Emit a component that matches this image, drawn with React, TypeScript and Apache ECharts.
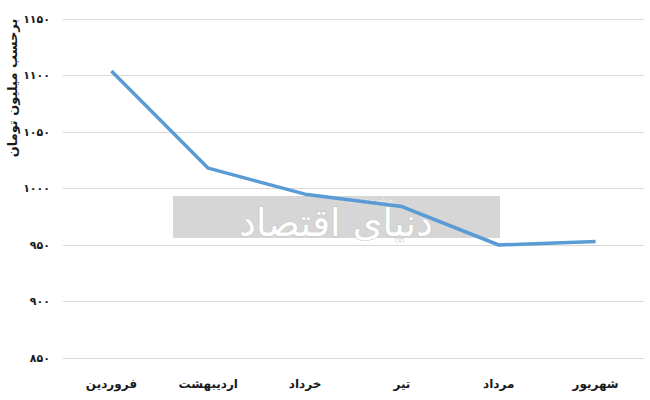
import React, { useEffect, useRef } from "react";
import * as echarts from "echarts";

const categories = ["فروردین", "اردیبهشت", "خرداد", "تیر", "مرداد", "شهریور"];
const values = [1104, 1018, 995, 984, 950, 953];
const yTitle = "برحسب میلیون تومان";
const watermark = "دنیای اقتصاد";
const watermarkSmall = "روزنامه صبح ایران";

const toPersian = (n: number) =>
  String(n).replace(/\d/g, (d) => "۰۱۲۳۴۵۶۷۸۹"[Number(d)]);

export default function App() {
  const ref = useRef<HTMLDivElement>(null);
  useEffect(() => {
    const chart = echarts.init(ref.current!, null, { renderer: "svg" });
    chart.setOption({
      animation: false,
      backgroundColor: "#ffffff",
      grid: { left: 63, right: 6, top: 19, bottom: 42, outerBoundsMode: "none", containLabel: false },
      graphic: [
        {
          type: "rect",
          z: 0,
          shape: { x: 173, y: 196, width: 327, height: 42 },
          style: { fill: "#d6d6d6" },
        },
        {
          type: "text",
          z: 1,
          x: 336,
          y: 204,
          style: {
            text: watermark,
            font: "38px 'DejaVu Sans'",
            fill: "#ffffff",
            stroke: "#c4c4c4",
            lineWidth: 1,
            align: "center",
            verticalAlign: "top",
          },
        },
        {
          type: "text",
          z: 2,
          x: 372,
          y: 199,
          style: {
            text: watermarkSmall,
            font: "6px 'DejaVu Sans'",
            fill: "#f2f2f2",
            align: "center",
            verticalAlign: "middle",
          },
        },
        {
          type: "text",
          z: 3,
          x: 12,
          y: 88,
          rotation: Math.PI / 2,
          style: {
            text: yTitle,
            font: "bold 13px 'DejaVu Sans'",
            fill: "#1a1a1a",
            align: "center",
            verticalAlign: "middle",
          },
        },
      ],
      xAxis: {
        type: "category",
        data: categories,
        axisLine: { show: true, lineStyle: { color: "#d9d9d9" } },
        axisTick: { show: false },
        axisLabel: {
          color: "#1a1a1a",
          fontWeight: "bold",
          fontSize: 12,
          fontFamily: "'DejaVu Sans'",
          margin: 20,
        },
      },
      yAxis: {
        type: "value",
        min: 850,
        max: 1150,
        interval: 50,
        axisLine: { show: false },
        axisTick: { show: false },
        splitLine: { lineStyle: { color: "#d9d9d9", width: 1 } },
        axisLabel: {
          color: "#1a1a1a",
          fontWeight: "bold",
          fontSize: 11,
          fontFamily: "'DejaVu Sans'",
          margin: 13,
          formatter: (v: number) => toPersian(v),
        },
      },
      series: [
        {
          type: "line",
          data: values,
          z: 5,
          showSymbol: false,
          symbol: "none",
          lineStyle: { color: "#5b9bd5", width: 3.5 },
        },
      ],
    });
    return () => chart.dispose();
  }, []);
  return <div ref={ref} style={{ width: 650, height: 400, position: "absolute", left: 0, top: 0 }} />;
}
